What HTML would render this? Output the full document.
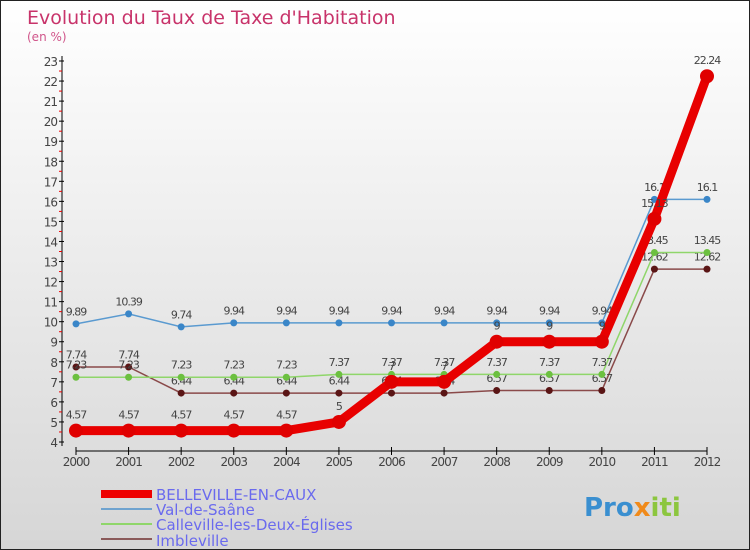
<!DOCTYPE html>
<html><head><meta charset="utf-8"><style>
body{margin:0}
#c{width:748px;height:548px;border:1px solid #222;background:linear-gradient(#fff,#d6d6d6);position:relative;overflow:hidden;font-family:"DejaVu Sans","Liberation Sans",sans-serif}
svg{position:absolute;left:0;top:0}
</style></head><body>
<div id="c">
<svg id="s" width="750" height="550">
<text x="26" y="23" font-size="19" fill="#c8336a">Evolution du Taux de Taxe d'Habitation</text>
<text x="26" y="40" font-size="12" fill="#d0558a">(en %)</text>
<g id="axes"></g><g id="series"></g>
<g>
<rect x="100" y="489" width="51" height="8" fill="#e00"/>
<text x="155" y="499" font-size="15" fill="#6a6aee">BELLEVILLE-EN-CAUX</text>
<rect x="100" y="507" width="51" height="2" fill="#6fa3cf"/>
<text x="155" y="514" font-size="15" fill="#6a6aee">Val-de-Saâne</text>
<rect x="100" y="522" width="51" height="2" fill="#8fd66a"/>
<text x="155" y="529" font-size="15" fill="#6a6aee">Calleville-les-Deux-Églises</text>
<rect x="100" y="537" width="51" height="2" fill="#8a5a5a"/>
<text x="155" y="545" font-size="15" fill="#6a6aee">Imbleville</text>
</g>
<text x="583" y="515" font-size="26" font-weight="bold" fill="#3a8fd0">Pro<tspan fill="#f08a1a">x</tspan><tspan fill="#8cc63f">iti</tspan></text>
</svg></div>
<script>
const years=[2000,2001,2002,2003,2004,2005,2006,2007,2008,2009,2010,2011,2012];
const yTicks=[4,5,6,7,8,9,10,11,12,13,14,15,16,17,18,19,20,21,22,23];
const belleville=[4.57,4.57,4.57,4.57,4.57,5,7,7,9,9,9,15.13,22.24];
const valDeSaane=[9.89,10.39,9.74,9.94,9.94,9.94,9.94,9.94,9.94,9.94,9.94,16.1,16.1];
const calleville=[7.23,7.23,7.23,7.23,7.23,7.37,7.37,7.37,7.37,7.37,7.37,13.45,13.45];
const imbleville=[7.74,7.74,6.44,6.44,6.44,6.44,6.44,6.44,6.57,6.57,6.57,12.62,12.62];
const NS="http://www.w3.org/2000/svg";
const X=i=>75+i*(706-75)/(years.length-1);
const Y=v=>441-(v-4)*(441-60)/19;
function mk(t,a,p){const e=document.createElementNS(NS,t);for(const k in a)e.setAttribute(k,a[k]);p.appendChild(e);return e;}
const ax=document.getElementById('axes');
let l=mk('line',{x1:61,y1:55,x2:61,y2:445,stroke:'#000'},ax);


yTicks.forEach(v=>{
 mk('line',{x1:58,x2:63,y1:Y(v),y2:Y(v),stroke:'#000'},ax);
 if(v<23)mk('line',{x1:58,x2:61,y1:Y(v+0.5),y2:Y(v+0.5),stroke:'#e00'},ax);
 const t=mk('text',{x:56,y:Y(v)+5,'font-size':12,'text-anchor':'end',fill:'#444','letter-spacing':'-1'},ax);
 t.textContent=v;
 
 
});
l=mk('line',{x1:75,y1:450,x2:706,y2:450,stroke:'#000'},ax);


years.forEach((y,i)=>{
 mk('line',{x1:X(i),x2:X(i),y1:446,y2:454,stroke:'#000'},ax);
 const t=mk('text',{x:X(i),y:465,'font-size':12,'text-anchor':'middle',fill:'#444','letter-spacing':'-1'},ax);
 t.textContent=y;
 
 
});
const sg=document.getElementById('series');
function series(data,name,color,w,r,dot){
 const g=mk('g',{},sg);
 
 
 mk('polyline',{points:data.map((v,i)=>X(i)+','+Y(v)).join(' '),fill:'none',stroke:color,'stroke-width':w},g);
 data.forEach((v,i)=>{
  const c=mk('circle',{cx:X(i),cy:Y(v),r:r,fill:dot},g);
  
  
  const t=mk('text',{x:X(i),y:Y(v)-(r+5),'font-size':11,'text-anchor':'middle',fill:'#444','letter-spacing':'-1'},g);
  t.textContent=v;
  
  
 });
}
series(imbleville,'imbleville','#8a4a4a',1.5,3.5,'#5a1515');
series(calleville,'calleville','#8fd66a',1.5,3.5,'#6cc040');
series(valDeSaane,'val-de-saane','#5a9ad0',1.5,3.5,'#3a86c8');
series(belleville,'belleville','#e80000',9,7,'#e00000');
</script>
</body></html>
